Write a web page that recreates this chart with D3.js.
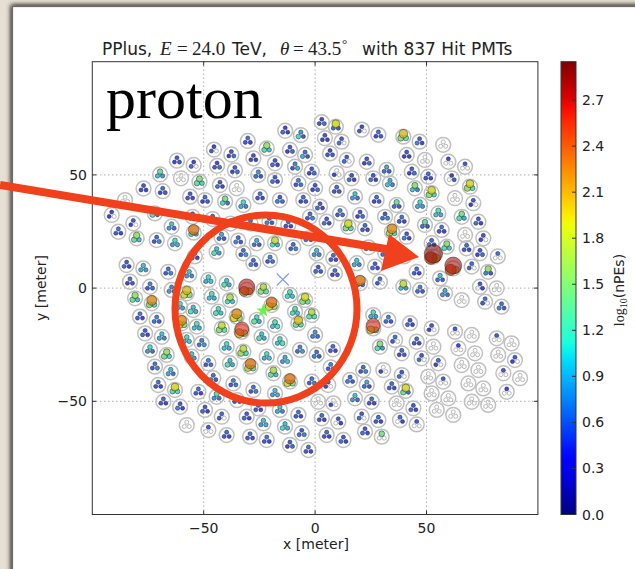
<!DOCTYPE html>
<html>
<head>
<meta charset="utf-8">
<script src="https://cdn.jsdelivr.net/npm/d3@7/dist/d3.min.js"></script>
<style>
  html, body { margin: 0; padding: 0; background: #e6dfd3; }
  svg { display: block; }
</style>
</head>
<body>
<div id="chart"></div>
<script>
/* Hit map of a simulated proton shower: tanks, PMT hits coloured by log10(nPEs). */

var xTicks = [-50, 0, 50];
var yTicks = [-50, 0, 50];
var cbTicks = [0.0, 0.3, 0.6, 0.9, 1.2, 1.5, 1.8, 2.1, 2.4, 2.7];
var cbMax = 2.95;

// tank centres [x, y] in meters
var tanks = [
  [3.0,73.3],[9.3,71.3],[4.4,66.2],[11.9,64.7],[21.0,70.0],[28.4,67.7],[39.6,66.9],[46.9,64.7],[57.5,63.3],
  [-13.4,69.5],[-6.4,67.6],[-21.7,61.7],[-11.3,61.0],[-30.2,65.0],[-45.4,61.2],[-37.6,59.0],[-4.5,58.8],
  [6.7,59.5],[14.2,56.6],[23.2,55.8],[32.1,52.2],[41.1,58.8],[49.3,56.6],[59.8,55.8],[67.3,53.6],
  [-18.0,55.1],[-9.0,53.6],[-1.5,51.4],[-27.7,57.3],[-62.0,56.3],[-54.5,54.4],[-69.6,50.2],[-60.2,48.5],
  [-51.9,47.0],[-77.0,44.0],[-68.4,42.8],[-56.1,40.4],[-42.7,45.5],[-35.2,44.1],[-40.4,38.2],[-32.2,36.7],
  [-49.4,38.9],[-85.3,38.9],[-91.3,32.3],[-81.6,28.6],[-88.3,24.9],[-80.1,22.0],[-71.9,33.0],[-64.4,27.1],
  [-71.1,21.2],[-62.9,19.8],[-54.5,24.5],[-25.5,50.0],[-18.0,47.7],[-7.5,46.3],[0.0,44.1],[9.7,50.7],
  [16.4,48.5],[9.7,43.3],[17.9,40.4],[26.1,48.5],[33.6,46.3],[27.6,38.9],[36.6,36.7],[43.4,51.4],
  [50.8,49.2],[61.3,48.5],[69.5,44.8],[44.8,44.1],[52.3,41.9],[62.8,39.7],[71.0,37.5],[47.1,36.7],
  [55.3,33.0],[65.8,31.5],[73.3,29.3],[49.3,27.9],[56.8,25.7],[67.3,23.5],[75.5,22.0],[52.3,19.8],
  [59.1,18.3],[-24.7,40.4],[-15.8,38.9],[-5.3,38.9],[2.2,36.0],[11.2,33.0],[20.2,32.3],[-2.3,31.5],
  [5.2,29.3],[14.9,27.1],[22.4,26.4],[31.4,31.5],[38.9,30.1],[34.5,24.9],[41.1,22.7],[-26.2,19.8],
  [-18.0,19.8],[-9.8,18.0],[0.7,15.4],[8.2,13.2],[1.4,8.0],[8.9,6.5],[18.7,11.0],[26.9,9.5],
  [29.1,2.8],[20.2,2.1],[-27.7,11.0],[-20.2,12.4],[-44.2,16.1],[-32.2,15.4],[-84.6,10.2],[-77.1,8.7],
  [-83.1,2.8],[-74.1,0.6],[-80.8,-4.5],[-73.3,-6.7],[-65.9,7.2],[-64.4,-0.8],[-57.6,-2.3],[-47.9,3.6],
  [-39.7,2.1],[-46.4,-3.8],[-38.2,-5.3],[-30.7,-0.8],[-23.2,-0.8],[-11.3,-3.0],[-4.5,-5.3],[47.1,-0.8],
  [56.1,4.3],[58.3,-2.3],[65.8,-5.3],[70.3,9.5],[77.7,7.2],[74.0,15.4],[68.0,17.6],[74.0,0.6],
  [81.5,-0.1],[76.3,-6.0],[83.7,-8.2],[53.1,13.9],[62.0,8.7],[39.6,0.6],[45.6,7.2],[-78.6,-12.6],
  [-71.1,-14.1],[-76.3,-20.0],[-68.8,-21.5],[-74.1,-27.3],[-66.6,-29.5],[-71.9,-34.7],[-64.8,-37.2],
  [-60.6,-8.2],[-54.7,-9.7],[-59.9,-15.5],[-53.1,-17.0],[-57.6,-22.9],[-50.9,-24.4],[-55.4,-30.3],
  [-47.9,-33.2],[-43.4,-10.4],[-35.2,-12.6],[-41.9,-17.8],[-32.9,-19.3],[-39.7,-25.9],[-32.2,-28.1],
  [-38.2,-33.2],[-29.0,-34.7],[-19.5,-7.5],[-26.2,-14.1],[-18.0,-16.3],[-9.0,-10.4],[-1.5,-11.9],
  [-24.0,-21.5],[-15.8,-23.7],[-7.5,-15.5],[0.0,-20.7],[-21.7,-30.3],[-13.5,-31.8],[-6.8,-27.3],
  [0.7,-29.5],[-18.7,-37.6],[-11.3,-41.3],[26.1,-17.8],[26.1,-11.9],[32.9,-14.1],[35.9,-22.9],
  [29.1,-25.9],[38.9,-28.8],[30.6,-36.2],[21.6,-36.2],[42.6,-15.5],[52.3,-17.8],[45.6,-23.7],
  [53.1,-25.9],[47.8,-31.0],[55.3,-33.2],[62.8,-19.3],[70.3,-20.7],[64.3,-26.6],[71.8,-28.8],
  [65.8,-34.0],[73.3,-36.2],[81.5,-22.2],[88.2,-24.4],[82.2,-29.5],[89.7,-31.8],[-70.4,-42.8],
  [-62.9,-45.0],[-68.1,-50.2],[-60.6,-52.4],[-57.6,-60.5],[-52.4,-45.8],[-49.4,-53.8],[-41.9,-56.8],
  [-47.9,-62.7],[-39.7,-64.9],[-45.7,-39.8],[-36.7,-42.1],[-44.2,-48.0],[-30.7,-56.8],[-29.2,-65.6],
  [-27.7,-45.0],[-18.0,-46.5],[-25.5,-53.1],[-15.8,-53.8],[-7.5,-56.0],[-23.2,-59.7],[-13.5,-61.2],
  [-6.0,-64.1],[-21.7,-67.1],[-11.3,-69.3],[-3.0,-71.5],[1.4,-50.2],[8.2,-50.9],[3.0,-57.5],
  [10.4,-59.0],[5.2,-64.9],[12.7,-67.1],[-1.5,-41.3],[5.9,-42.8],[15.7,-40.6],[23.2,-42.8],
  [17.9,-48.7],[25.4,-50.2],[20.9,-56.8],[28.4,-58.3],[22.4,-63.4],[29.9,-65.6],[38.9,-38.4],
  [34.4,-43.5],[40.7,-45.4],[36.6,-50.9],[44.1,-53.1],[38.1,-58.3],[45.6,-60.2],[50.8,-39.1],
  [57.5,-41.3],[52.3,-46.5],[59.8,-48.7],[54.6,-53.8],[62.0,-56.0],[68.8,-42.1],[75.5,-44.3],
  [70.3,-50.2],[77.7,-51.6],[84.5,-37.6],[92.0,-39.8],[86.0,-45.8],[-46.0,30.5],[-38.0,28.5],
  [-42.0,22.5],[-34.5,21.0],[-54.0,14.0],[-56.5,6.0],[24.0,18.0],[31.5,15.5],[40.0,14.0],
  [8.0,-27.0],[7.0,-35.0],[82.0,14.0],[-35.0,-49.5],[-55.0,31.5],[-29.0,28.5],[-20.5,29.5],
  [-12.0,28.0],[-3.0,22.0],[-36.0,52.0],[-44.0,54.0]
];

// log10(nPEs) of the three PMTs of each tank, null = no hit
var pmts = [
  [0.4,0.5,0.6],[1.9,0.6,0.5],[0.5,0.4,0.3],[0.5,0.6,null],[0.4,0.5,null],[0.6,0.4,0.5],[2.0,1.5,1.3],[0.5,0.7,0.4],[null,null,null],
  [0.4,0.6,0.3],[0.8,1.1,0.5],[1.6,1.2,1.0],[0.5,0.4,0.6],[0.6,0.5,0.4],[0.4,0.5,null],[0.5,0.3,0.6],[0.6,0.9,0.5],
  [0.4,0.5,0.5],[0.5,0.6,null],[0.5,0.4,0.6],[0.9,0.6,0.5],[0.5,0.4,0.3],[null,null,null],[0.4,null,null],[0.5,null,null],
  [0.5,0.6,0.4],[0.7,0.5,0.9],[0.5,0.4,0.6],[0.5,0.4,0.3],[0.5,0.4,0.5],[0.4,0.6,null],[1.3,1.0,0.8],[null,null,null],
  [1.5,1.3,1.1],[0.5,0.4,0.3],[0.6,0.4,0.5],[0.5,0.5,0.4],[0.5,0.6,0.4],[null,null,null],[1.4,1.1,0.6],[1.1,0.9,0.7],
  [0.6,0.4,0.5],[null,null,null],[0.4,0.3,null],[0.5,0.3,null],[0.6,0.5,0.4],[1.6,1.3,1.0],[0.9,1.2,0.6],[1.0,0.8,0.6],
  [0.6,0.5,0.7],[1.1,0.8,0.9],[2.3,1.2,0.9],[0.8,0.6,0.5],[0.5,0.6,0.4],[0.7,0.5,0.6],[0.5,0.4,0.6],[null,0.4,null],
  [0.5,0.6,0.4],[0.6,0.5,0.5],[1.0,0.8,0.6],[0.5,0.6,0.3],[0.9,1.0,0.7],[0.6,0.4,0.5],[1.3,0.6,0.5],[0.5,0.4,0.6],
  [0.6,0.5,0.4],[0.4,null,0.5],[1.9,1.6,1.2],[1.5,1.0,0.7],[1.9,1.5,1.1],[null,null,null],[0.5,0.3,null],[1.1,0.9,0.8],
  [1.2,1.0,0.9],[1.4,1.2,0.9],[0.5,0.6,0.4],[1.3,0.6,0.5],[0.6,0.5,0.4],[null,null,null],[0.5,0.4,null],[0.6,0.7,0.5],
  [1.5,1.2,1.0],[0.6,0.5,0.4],[0.5,0.7,0.6],[0.6,0.4,0.5],[0.5,0.6,0.4],[0.7,0.5,0.6],[0.5,0.4,0.6],[0.6,0.5,0.7],
  [0.5,0.6,0.4],[1.9,1.4,1.2],[0.6,0.5,0.4],[0.5,0.6,0.7],[0.6,0.5,0.4],[2.2,1.6,1.2],[0.5,0.7,0.4],[0.9,0.6,0.5],
  [1.8,1.1,0.9],[0.6,0.5,0.7],[1.0,0.8,0.7],[0.6,0.5,0.4],[0.5,0.6,0.5],[0.6,0.4,0.5],[1.0,0.9,0.7],[0.5,0.6,0.4],
  [0.6,0.5,null],[2.3,0.9,0.6],[0.6,0.7,0.5],[0.7,0.5,0.6],[1.0,1.2,0.8],[0.6,0.5,0.8],[0.5,0.6,0.4],[1.0,0.9,0.8],
  [0.6,0.4,0.5],[0.7,0.5,0.6],[1.6,1.3,1.0],[2.2,1.5,1.2],[0.6,0.5,0.7],[0.7,0.8,0.5],[2.0,1.8,1.5],[1.1,0.9,1.0],
  [1.0,1.2,0.9],[1.2,1.0,0.9],[1.7,1.1,1.0],[2.75,2.2,1.8],[1.7,1.5,1.3],[1.2,1.1,1.0],[1.9,1.5,1.3],[0.7,0.6,0.5],
  [1.0,0.6,0.5],[0.9,0.8,0.6],[null,null,null],[0.6,0.5,null],[1.6,0.7,0.5],[0.5,0.4,0.6],[0.6,0.5,0.4],[0.5,null,0.4],
  [null,null,null],[0.6,0.5,null],[0.6,0.7,0.5],[2.9,2.5,2.0],[2.8,2.4,1.8],[1.8,1.0,0.8],[0.6,0.5,0.4],[0.6,0.5,0.4],
  [0.7,0.6,0.5],[0.5,0.6,0.4],[1.0,0.9,0.7],[1.1,0.8,0.6],[1.6,1.4,1.1],[0.6,0.5,0.7],[1.0,0.9,0.6],
  [1.1,0.9,0.8],[1.0,1.2,0.9],[2.2,1.9,1.5],[1.2,1.0,0.9],[1.1,0.9,1.0],[0.7,0.6,0.8],[1.0,1.1,0.8],
  [0.7,0.5,0.6],[1.1,1.2,1.0],[2.2,1.9,1.6],[1.8,1.5,1.3],[2.6,2.1,1.7],[1.1,1.0,0.9],[1.8,1.6,1.2],
  [1.0,1.2,0.9],[2.3,1.7,1.4],[2.3,1.9,1.6],[1.1,1.3,0.9],[1.2,1.0,1.1],[1.2,1.1,1.0],[1.7,1.3,1.2],
  [1.0,1.2,0.9],[1.1,1.0,1.2],[2.0,1.4,1.2],[0.8,0.7,0.6],[1.1,0.9,1.0],[0.9,0.8,1.0],[0.7,0.6,0.8],
  [0.6,0.7,0.5],[1.7,1.3,1.0],[2.3,1.8,1.5],[2.6,1.9,1.5],[1.1,0.9,0.8],[0.7,0.6,0.5],[0.6,0.5,null],
  [1.5,1.2,0.8],[0.6,0.4,0.5],[null,0.4,null],[0.6,0.5,0.7],[0.5,0.6,0.4],[0.5,0.4,null],[0.6,0.5,0.4],
  [null,null,null],[0.5,0.6,null],[0.6,0.4,null],[0.5,null,null],[null,null,null],[0.4,null,null],[null,null,null],
  [null,null,null],[null,null,null],[0.5,null,null],[null,null,null],[null,null,null],[0.5,0.4,null],[0.6,0.5,0.4],
  [1.9,1.2,1.1],[0.6,0.5,0.4],[0.5,0.7,0.4],[null,null,null],[0.6,0.5,0.4],[0.5,0.6,0.4],[0.6,0.5,null],
  [0.5,null,null],[0.6,0.5,0.4],[0.6,0.7,0.5],[0.7,0.5,0.6],[1.2,0.8,0.6],[0.5,0.6,0.4],[0.6,0.5,0.4],
  [0.6,0.5,0.7],[1.0,0.8,0.9],[0.6,0.5,0.4],[1.0,0.9,0.7],[0.6,0.5,0.4],[1.0,0.8,0.9],[1.0,1.1,0.9],
  [0.5,0.6,0.7],[0.6,0.5,0.4],[0.5,0.4,0.6],[0.6,0.5,0.4],[null,null,null],[null,0.4,null],[0.6,0.5,0.4],
  [0.5,null,0.4],[0.6,0.5,0.4],[0.5,0.6,0.4],[0.6,0.5,0.7],[0.5,0.4,null],[0.6,0.7,0.5],[0.9,0.6,0.5],
  [1.0,0.8,0.6],[0.6,0.5,0.4],[0.5,0.6,null],[0.6,0.5,0.4],[0.5,0.6,0.4],[1.4,null,null],[0.5,0.6,null],
  [0.6,0.5,0.4],[1.9,1.3,0.6],[null,null,null],[0.5,0.6,0.4],[0.6,null,0.4],[0.5,null,null],[null,null,null],
  [0.5,null,null],[null,null,null],[null,null,null],[null,null,null],[null,null,null],[null,null,null],[null,null,null],
  [null,null,null],[null,null,null],[0.5,null,null],[null,null,null],[0.4,null,null],[0.6,0.5,0.4],[0.7,0.5,0.6],
  [0.9,0.6,0.5],[0.6,0.7,0.5],[0.5,0.6,0.4],[1.0,0.8,0.7],[0.6,0.5,0.4],[0.5,0.6,null],[0.6,0.5,0.4],
  [0.6,0.5,0.4],[0.7,0.5,0.6],[0.6,null,null],[0.6,0.5,0.4],[0.6,0.5,0.4],[0.6,0.5,0.7],[0.6,0.7,0.5],
  [0.6,0.5,0.4],[0.5,0.6,0.4],[0.5,0.4,0.6],[0.4,0.5,0.6]
];
var truePos = [-14.5, 3.8];   // blue cross
var fitPos = [-23.3, -10.0];  // green star

var W = 635, H = 569;
var plot = { left: 92.3, right: 537.9, top: 61.7, bottom: 514.5 };
var cbar = { left: 561, right: 576 };

var jetScale = d3.scaleLinear()
  .domain([0, 0.11, 0.125, 0.34, 0.35, 0.375, 0.64, 0.65, 0.66, 0.89, 0.91, 1])
  .range(["#000080", "#0000ff", "#0000ff", "#00dbff", "#00e6f7", "#15ffe2",
          "#efff08", "#f7f500", "#ffec00", "#ff1300", "#e80000", "#800000"])
  .clamp(true);
// PMT fills look a little duller than the colour bar in the original
function pmtColor(v) {
  return d3.interpolateRgb(jetScale(v / cbMax), "#505050")(0.25);
}

var svg = d3.select("#chart").append("svg").attr("width", W).attr("height", H);

var defs = svg.append("defs");
var sh = defs.append("filter").attr("id", "shadow").attr("x", "-5%").attr("y", "-5%").attr("width", "110%").attr("height", "110%");
sh.append("feGaussianBlur").attr("in", "SourceAlpha").attr("stdDeviation", 2.5);
sh.append("feOffset").attr("dx", -1).attr("dy", -1).attr("result", "b");
var mg = sh.append("feMerge");
mg.append("feMergeNode").attr("in", "b");
mg.append("feMergeNode").attr("in", "SourceGraphic");

// page
svg.append("rect").attr("x", 0).attr("y", 0).attr("width", W).attr("height", H).attr("fill", "#e6dfd3");
svg.append("rect").attr("x", 12.5).attr("y", 6.5).attr("width", W).attr("height", H)
  .attr("fill", "#ffffff").attr("stroke", "#6e6a64").attr("stroke-width", 1.2)
  .attr("filter", "url(#shadow)");

var x = d3.scaleLinear().domain([-100, 100]).range([plot.left, plot.right]);
var y = d3.scaleLinear().domain([-100, 100]).range([plot.bottom, plot.top]);

// grid
var grid = svg.append("g").attr("stroke", "#8a8a8a").attr("stroke-width", 1).attr("stroke-dasharray", "1,3");
xTicks.forEach(function (t) {
  grid.append("line").attr("x1", x(t)).attr("x2", x(t)).attr("y1", plot.top).attr("y2", plot.bottom);
});
yTicks.forEach(function (t) {
  grid.append("line").attr("y1", y(t)).attr("y2", y(t)).attr("x1", plot.left).attr("x2", plot.right);
});

// tanks
var tankR = 7.4, pmtOff = 2.9;
var angles = [-90, 150, 30];
var gT = svg.append("g");
gT.selectAll("circle.tank").data(tanks).enter().append("circle")
  .attr("cx", function (d) { return x(d[0]); })
  .attr("cy", function (d) { return y(d[1]); })
  .attr("r", tankR).attr("fill", "none").attr("stroke", "#c0c0c0").attr("stroke-width", 1.5);

var pm = [];
tanks.forEach(function (t, i) {
  pmts[i].forEach(function (v, k) {
    var a = angles[k] * Math.PI / 180;
    pm.push({ px: x(t[0]) + pmtOff * Math.cos(a), py: y(t[1]) + pmtOff * Math.sin(a), v: v });
  });
});
var rScale = d3.scaleLinear().domain([0, 1.0, 1.8, 2.4, 2.95]).range([1.9, 2.2, 3.6, 5.6, 9.5]).clamp(true);

gT.selectAll("circle.off").data(pm.filter(function (d) { return d.v === null; })).enter().append("circle")
  .attr("cx", function (d) { return d.px; }).attr("cy", function (d) { return d.py; })
  .attr("r", 2.0).attr("fill", "none").attr("stroke", "#b0b0b0").attr("stroke-width", 0.9);

var hitsOn = pm.filter(function (d) { return d.v !== null; }).sort(function (a, b) { return a.v - b.v; });
gT.selectAll("circle.hit").data(hitsOn).enter().append("circle")
  .attr("cx", function (d) { return d.px; }).attr("cy", function (d) { return d.py; })
  .attr("r", function (d) { return rScale(d.v); })
  .attr("fill", function (d) { return pmtColor(d.v); })
  .attr("fill-opacity", function (d) { return d.v > 2.5 ? 0.6 : 0.8; })
  .attr("stroke", "#141414").attr("stroke-opacity", 0.6).attr("stroke-width", 0.75);

// markers
var cx = x(truePos[0]), cy = y(truePos[1]);
svg.append("path").attr("d", "M" + (cx - 6) + "," + (cy - 6) + "L" + (cx + 6) + "," + (cy + 6) + "M" + (cx - 6) + "," + (cy + 6) + "L" + (cx + 6) + "," + (cy - 6))
  .attr("stroke", "#7f9cf0").attr("stroke-width", 1.1);
svg.append("path").attr("d", d3.symbol().type(d3.symbolStar).size(60)())
  .attr("transform", "translate(" + x(fitPos[0]) + "," + y(fitPos[1]) + ")")
  .attr("fill", "#6cf04a");

// frame and ticks
svg.append("rect").attr("x", plot.left).attr("y", plot.top)
  .attr("width", plot.right - plot.left).attr("height", plot.bottom - plot.top)
  .attr("fill", "none").attr("stroke", "#333").attr("stroke-width", 1);
var tk = svg.append("g").attr("stroke", "#333").attr("stroke-width", 1);
xTicks.forEach(function (t) {
  tk.append("line").attr("x1", x(t)).attr("x2", x(t)).attr("y1", plot.bottom).attr("y2", plot.bottom - 4);
  tk.append("line").attr("x1", x(t)).attr("x2", x(t)).attr("y1", plot.top).attr("y2", plot.top + 4);
});
yTicks.forEach(function (t) {
  tk.append("line").attr("y1", y(t)).attr("y2", y(t)).attr("x1", plot.left).attr("x2", plot.left + 4);
  tk.append("line").attr("y1", y(t)).attr("y2", y(t)).attr("x1", plot.right).attr("x2", plot.right - 4);
});

var font = "DejaVu Sans, sans-serif";
var serif = "Liberation Serif, serif";
var lab = svg.append("g").attr("font-family", font).attr("font-size", 14).attr("fill", "#222");
xTicks.forEach(function (t) {
  lab.append("text").attr("x", x(t)).attr("y", 533).attr("text-anchor", "middle").text(t < 0 ? "\u2212" + (-t) : t);
});
yTicks.forEach(function (t) {
  lab.append("text").attr("x", 87).attr("y", y(t) + 5).attr("text-anchor", "end").text(t < 0 ? "\u2212" + (-t) : t);
});
lab.append("text").attr("x", 316).attr("y", 549).attr("text-anchor", "middle").text("x [meter]");
lab.append("text").attr("transform", "translate(46,288) rotate(-90)").attr("text-anchor", "middle").text("y [meter]");

// title, pieces placed along the line
var tg = svg.append("g").attr("fill", "#222");
function tpart(px, s, fam, size, style) {
  tg.append("text").attr("x", px).attr("y", 55).attr("font-family", fam).attr("font-size", size)
    .attr("font-style", style || "normal").text(s);
}
tpart(102, "PPlus,", font, 17);
tpart(160, "E", serif, 19, "italic");
tpart(177, "=", serif, 19);
tpart(192, "24.0", serif, 19);
tpart(232, "TeV,", font, 17);
tpart(280, "\u03b8", serif, 19, "italic");
tpart(293, "=", serif, 19);
tpart(308, "43.5", serif, 19);
tg.append("text").attr("x", 342).attr("y", 48).attr("font-family", serif).attr("font-size", 13).text("\u00b0");
tpart(362, "with 837 Hit PMTs", font, 17);

// colorbar
var cb = d3.scaleLinear().domain([0, cbMax]).range([plot.bottom, plot.top]);
var grad = defs.append("linearGradient").attr("id", "jet").attr("x1", 0).attr("y1", 1).attr("x2", 0).attr("y2", 0);
d3.range(0, 1.0001, 0.02).forEach(function (t) {
  grad.append("stop").attr("offset", t).attr("stop-color", jetScale(t));
});
svg.append("rect").attr("x", cbar.left).attr("y", plot.top).attr("width", cbar.right - cbar.left)
  .attr("height", plot.bottom - plot.top).attr("fill", "url(#jet)").attr("stroke", "#333").attr("stroke-width", 1);
cbTicks.forEach(function (t) {
  svg.append("line").attr("x1", cbar.right - 4).attr("x2", cbar.right).attr("y1", cb(t)).attr("y2", cb(t)).attr("stroke", "#333");
  lab.append("text").attr("x", 582).attr("y", cb(t) + 5).text(t.toFixed(1));
});
var cbl = svg.append("text").attr("transform", "translate(624,290) rotate(-90)").attr("text-anchor", "middle")
  .attr("font-family", font).attr("font-size", 14).attr("fill", "#222");
cbl.append("tspan").attr("font-family", serif).text("log");
cbl.append("tspan").attr("font-family", serif).attr("font-size", 10).attr("dy", 3).text("10");
cbl.append("tspan").attr("dy", -3).text("(nPEs)");

// annotations
svg.append("text").attr("x", 106).attr("y", 118).attr("font-family", serif)
  .attr("font-size", 60).attr("fill", "#000").text("proton");
var red = "#f0401c";
svg.append("ellipse").attr("cx", 266).attr("cy", 309).attr("rx", 91).attr("ry", 94)
  .attr("fill", "none").attr("stroke", red).attr("stroke-width", 7);
svg.append("line").attr("x1", 0).attr("y1", 185).attr("x2", 392).attr("y2", 250)
  .attr("stroke", red).attr("stroke-width", 8);
svg.append("polygon").attr("points", "419,257 389,234 381,271").attr("fill", red);
</script>
</body>
</html>
